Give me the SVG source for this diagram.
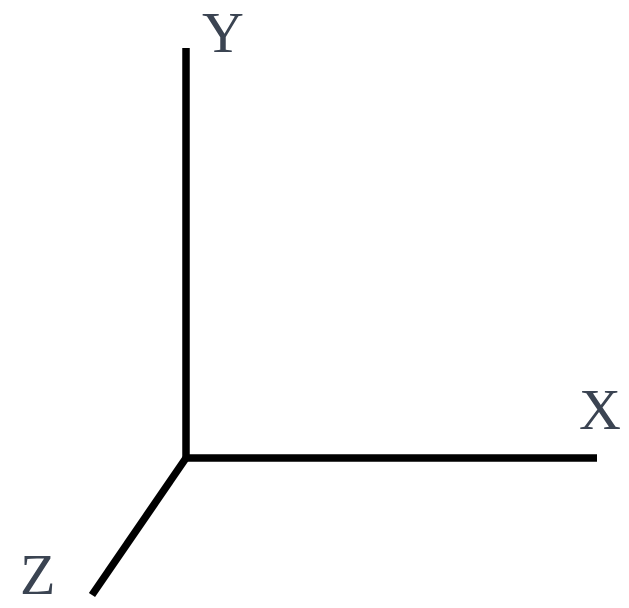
<svg xmlns="http://www.w3.org/2000/svg" width="629" height="608" viewBox="0 0 629 608">
<style>
.axis{stroke:#000;stroke-width:7.5;fill:none;stroke-linecap:butt;stroke-linejoin:miter}
.lbl{font-family:"Liberation Serif","Times New Roman",serif;font-size:58px;fill:#3b4452}
</style>
<rect width="629" height="608" fill="#fff"/>
<g id="connectors">
<path class="axis" d="M186,48 V458 H597"/>
<path class="axis" d="M186,458 L92,595"/>
</g>
<g id="label-y"><text class="lbl" x="202" y="52">Y</text></g>
<g id="label-x"><text class="lbl" x="579" y="429">X</text></g>
<g id="label-z"><text class="lbl" x="20" y="594">Z</text></g>
</svg>
